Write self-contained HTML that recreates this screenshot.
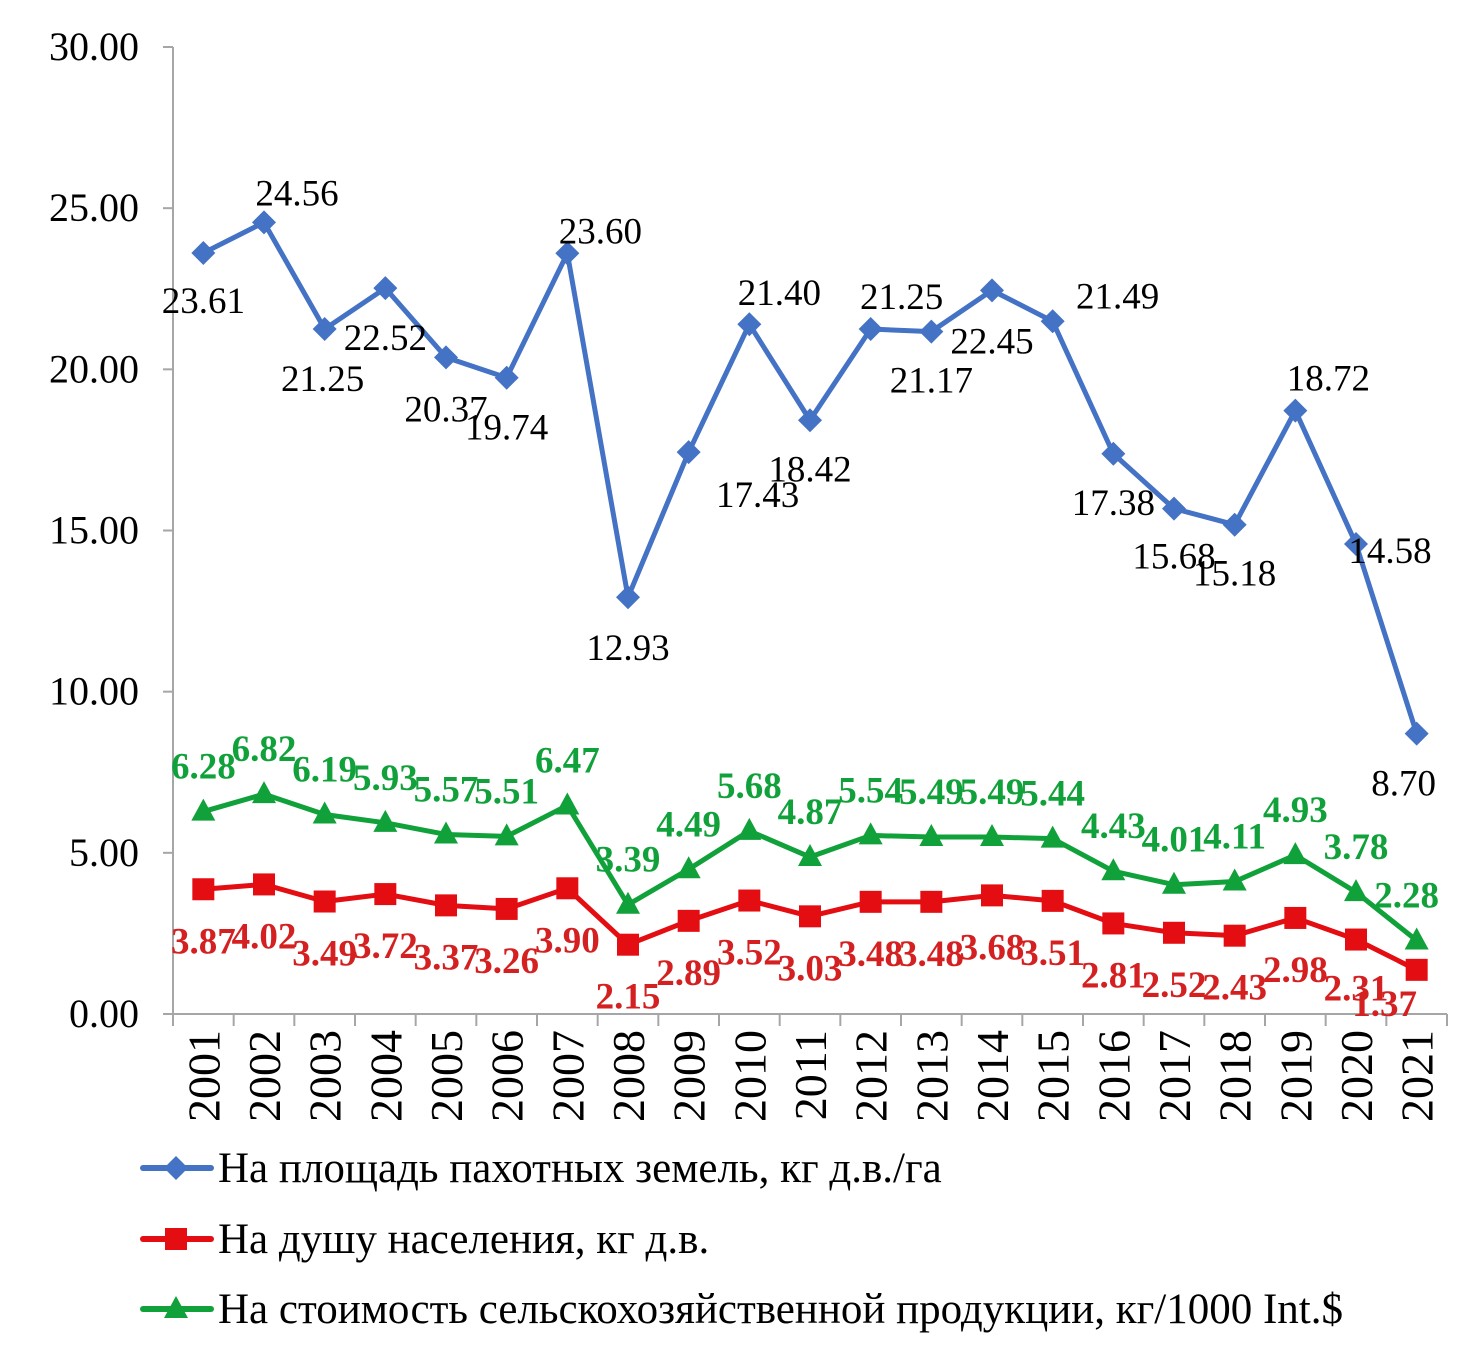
<!DOCTYPE html>
<html><head><meta charset="utf-8"><style>
html,body{margin:0;padding:0;background:#fff}
svg{display:block}
text{font-family:"Liberation Serif",serif}
</style></head><body>
<svg id="chart" width="1474" height="1349" viewBox="0 0 1474 1349" xmlns="http://www.w3.org/2000/svg">
<g id="axes"></g><g id="series"></g><g id="labels"></g><g id="legend"></g>
</svg>
<script>
const years=["2001","2002","2003","2004","2005","2006","2007","2008","2009","2010","2011","2012","2013","2014","2015","2016","2017","2018","2019","2020","2021"];
const arable=[23.61,24.56,21.25,22.52,20.37,19.74,23.60,12.93,17.43,21.40,18.42,21.25,21.17,22.45,21.49,17.38,15.68,15.18,18.72,14.58,8.70];
const perCapita=[3.87,4.02,3.49,3.72,3.37,3.26,3.90,2.15,2.89,3.52,3.03,3.48,3.48,3.68,3.51,2.81,2.52,2.43,2.98,2.31,1.37];
const perValue=[6.28,6.82,6.19,5.93,5.57,5.51,6.47,3.39,4.49,5.68,4.87,5.54,5.49,5.49,5.44,4.43,4.01,4.11,4.93,3.78,2.28];
const yTicks=[0,5,10,15,20,25,30];
const seriesNames=["На площадь пахотных земель, кг д.в./га","На душу населения, кг д.в.","На стоимость сельскохозяйственной продукции, кг/1000 Int.$"];
const blueDx=[0,33,-2,0,0,0,33,0,69,30,0,31,0,0,65,0,0,0,33,34,-13];
const blueDy=[47,-30,49,49,51,49,-23,50,42,-32,48,-33,48,50,-26,48,47,48,-33,6,49];

const NS="http://www.w3.org/2000/svg";
const X0=173,X1=1447,Y0=1014,Y1=47,YMAX=30;
const cw=(X1-X0)/years.length;
const xs=i=>X0+cw*(i+0.5);
const ys=v=>Y0-(v/YMAX)*(Y0-Y1);
function el(t,a,p){const e=document.createElementNS(NS,t);for(const k in a)e.setAttribute(k,a[k]);p.appendChild(e);return e;}
const axes=document.getElementById('axes'),ser=document.getElementById('series'),lab=document.getElementById('labels'),leg=document.getElementById('legend');
const ax=el('line',{x1:X0,y1:Y1,x2:X0,y2:Y0,stroke:'#a6a6a6','stroke-width':2},axes);


const xa=el('line',{x1:X0-10,y1:Y0,x2:X1,y2:Y0,stroke:'#a6a6a6','stroke-width':2},axes);


yTicks.forEach(v=>{
  el('line',{x1:X0-10,y1:ys(v),x2:X0,y2:ys(v),stroke:'#a6a6a6','stroke-width':2},axes);
  const t=el('text',{x:139,y:ys(v)+13,'text-anchor':'end','font-size':40,fill:'#000'},axes);
  t.textContent=v.toFixed(2);
  
  
});
for(let i=0;i<=years.length;i++){el('line',{x1:X0+cw*i,y1:Y0,x2:X0+cw*i,y2:Y0+12,stroke:'#a6a6a6','stroke-width':2},axes);}
years.forEach((y,i)=>{
  const t=el('text',{x:0,y:0,'text-anchor':'end','font-size':46,fill:'#000',transform:`translate(${xs(i)+16},1030) rotate(-90)`},axes);
  t.textContent=y;
  
  
});
function marker(kind,x,y,col,p){
  let m;
  if(kind==='d') m=el('polygon',{points:`${x},${y-12} ${x+12},${y} ${x},${y+12} ${x-12},${y}`,fill:col},p);
  else if(kind==='s') m=el('rect',{x:x-11,y:y-11,width:22,height:22,fill:col},p);
  else m=el('polygon',{points:`${x},${y-13} ${x+12},${y+9} ${x-12},${y+9}`,fill:col},p);
  return m;
}
const defs=[[arable,'#4472c4','d','blue'],[perCapita,'#e30d12','s','red'],[perValue,'#11a13a','t','green']];
defs.forEach(([d,col,k,nm])=>{
  const pl=el('polyline',{points:d.map((v,i)=>xs(i)+','+ys(v)).join(' '),fill:'none',stroke:col,'stroke-width':5,'stroke-linejoin':'round'},ser);
  
  
  d.forEach((v,i)=>{const m=marker(k,xs(i),ys(v),col,ser);
    
    });
});
arable.forEach((v,i)=>{
  const t=el('text',{x:xs(i)+blueDx[i],y:ys(v)+blueDy[i]+13,'text-anchor':'middle','font-size':37,fill:'#000'},lab);
  t.textContent=v.toFixed(2);
  
  
});
perValue.forEach((v,i)=>{
  const dx=i===20?-10:0;
  const t=el('text',{x:xs(i)+dx,y:ys(v)-46+13,'text-anchor':'middle','font-size':37,'font-weight':'bold',fill:'#11a13a'},lab);
  t.textContent=v.toFixed(2);
  
  
});
perCapita.forEach((v,i)=>{
  const dx=i===20?-32:0, dy=i===20?33:(i===19?48:51);
  const t=el('text',{x:xs(i)+dx,y:ys(v)+dy+13,'text-anchor':'middle','font-size':37,'font-weight':'bold',fill:'#d42020'},lab);
  t.textContent=v.toFixed(2);
  
  
});
const ly=[1168,1239,1309];
defs.forEach(([d,col,k,nm],j)=>{
  const ln=el('line',{x1:143,y1:ly[j],x2:211,y2:ly[j],stroke:col,'stroke-width':6,'stroke-linecap':'round'},leg);
  
  
  marker(k,176,ly[j],col,leg);
  const t=el('text',{x:218,y:ly[j]+14,'font-size':43,fill:'#000'},leg);
  t.textContent=seriesNames[j];
  
  
});
</script>
</body></html>
